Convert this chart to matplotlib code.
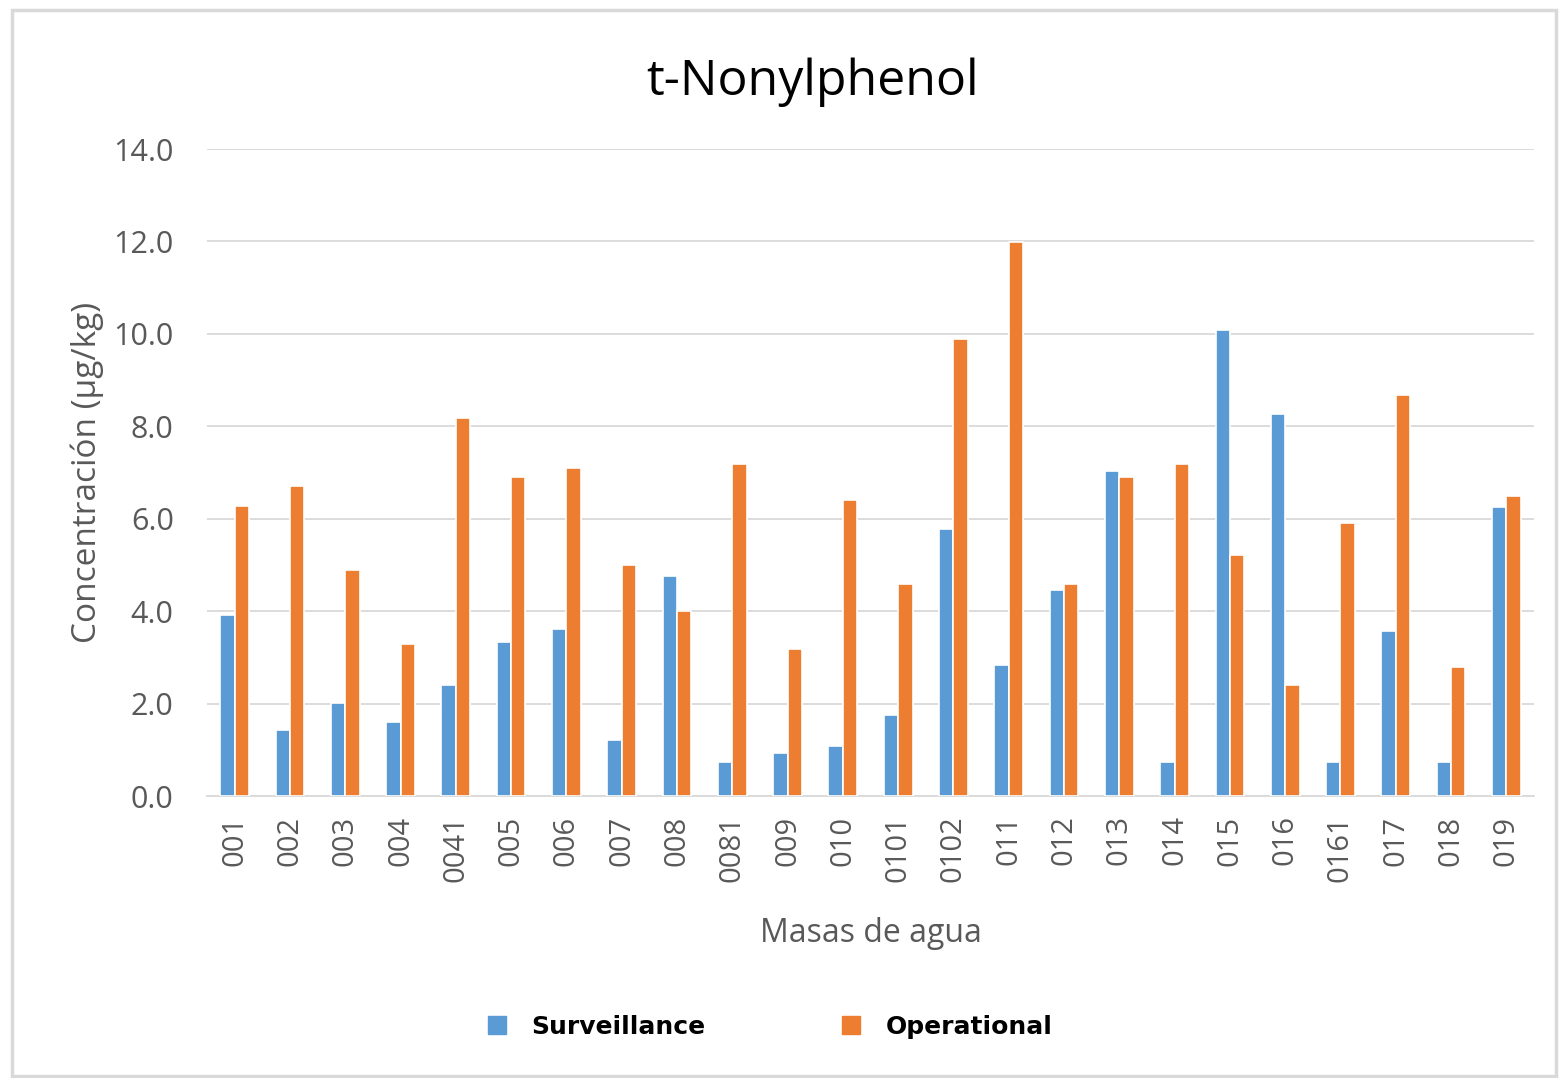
import matplotlib
matplotlib.use("Agg")
import matplotlib.pyplot as plt
import numpy as np
from matplotlib.lines import Line2D
from matplotlib.patches import Rectangle

categories = ["001", "002", "003", "004", "0041", "005", "006", "007", "008", "0081",
              "009", "010", "0101", "0102", "011", "012", "013", "014", "015", "016",
              "0161", "017", "018", "019"]
surveillance = [3.92, 1.43, 2.01, 1.60, 2.40, 3.33, 3.61, 1.21, 4.76, 0.74,
                0.93, 1.08, 1.75, 5.78, 2.84, 4.46, 7.03, 0.74, 10.09, 8.27,
                0.74, 3.57, 0.74, 6.26]
operational = [6.28, 6.71, 4.89, 3.29, 8.18, 6.90, 7.10, 5.00, 4.00, 7.19,
               3.18, 6.41, 4.59, 9.89, 11.99, 4.59, 6.90, 7.19, 5.22, 2.40,
               5.91, 8.68, 2.79, 6.49]
yticks = [0, 2, 4, 6, 8, 10, 12, 14]

blue = "#5B9BD5"
orange = "#ED7D31"
grid_c = "#D9D9D9"
text_c = "#595959"
font = ["Open Sans", "DejaVu Sans"]

fig = plt.figure(figsize=(15.6, 10.78), dpi=100)
ax = fig.add_axes([207/1560, 1 - 796/1078, (1534-207)/1560, (796-149)/1078])

x = np.arange(len(categories))
w = 0.26
ax.bar(x - w/2, surveillance, w, color=blue, edgecolor="white", linewidth=1.2, zorder=3)
ax.bar(x + w/2, operational, w, color=orange, edgecolor="white", linewidth=1.2, zorder=3)

ax.set_xlim(-0.5, len(categories) - 0.5)
ax.set_ylim(0, 14)
ax.set_yticks(yticks)
ax.set_yticklabels([f"{v:.1f}" for v in yticks], fontsize=22, color=text_c, family=font)
ax.set_xticks(x)
ax.set_xticklabels(categories, rotation=90, fontsize=21, color=text_c, family=font)
ax.tick_params(axis="x", length=0, pad=14)
ax.tick_params(axis="y", length=0, pad=24)
ax.grid(axis="y", color=grid_c, linewidth=1.3, zorder=0)
for s in ["top", "right", "left"]:
    ax.spines[s].set_visible(False)
ax.spines["bottom"].set_color(grid_c)
ax.spines["bottom"].set_linewidth(1.3)

ax.set_ylabel("Concentración (µg/kg)", fontsize=24, color=text_c, family=font, labelpad=7)
ax.set_xlabel("Masas de agua", fontsize=23, color=text_c, family=font, labelpad=25)

fig.text(813/1560, 1 - 82/1078, "t-Nonylphenol", fontsize=36, color="black",
         family=font, ha="center", va="center")

handles = [Line2D([], [], marker="s", linestyle="none", markersize=13, color=blue),
           Line2D([], [], marker="s", linestyle="none", markersize=13, color=orange)]
fig.legend(handles, ["Surveillance", "Operational"], loc="center",
           bbox_to_anchor=(767/1560, 1 - 1027/1078), ncol=2, frameon=False,
           prop={"family": "DejaVu Sans", "weight": "bold", "size": 18},
           columnspacing=5.2, handletextpad=0.8, handlelength=1.2)

fig.patches.append(Rectangle((12/1560, 2/1078), 1544/1560, 1 - 12/1078,
                             transform=fig.transFigure, fill=False,
                             edgecolor=grid_c, linewidth=2.5))

fig.savefig("out.png", dpi=100)
